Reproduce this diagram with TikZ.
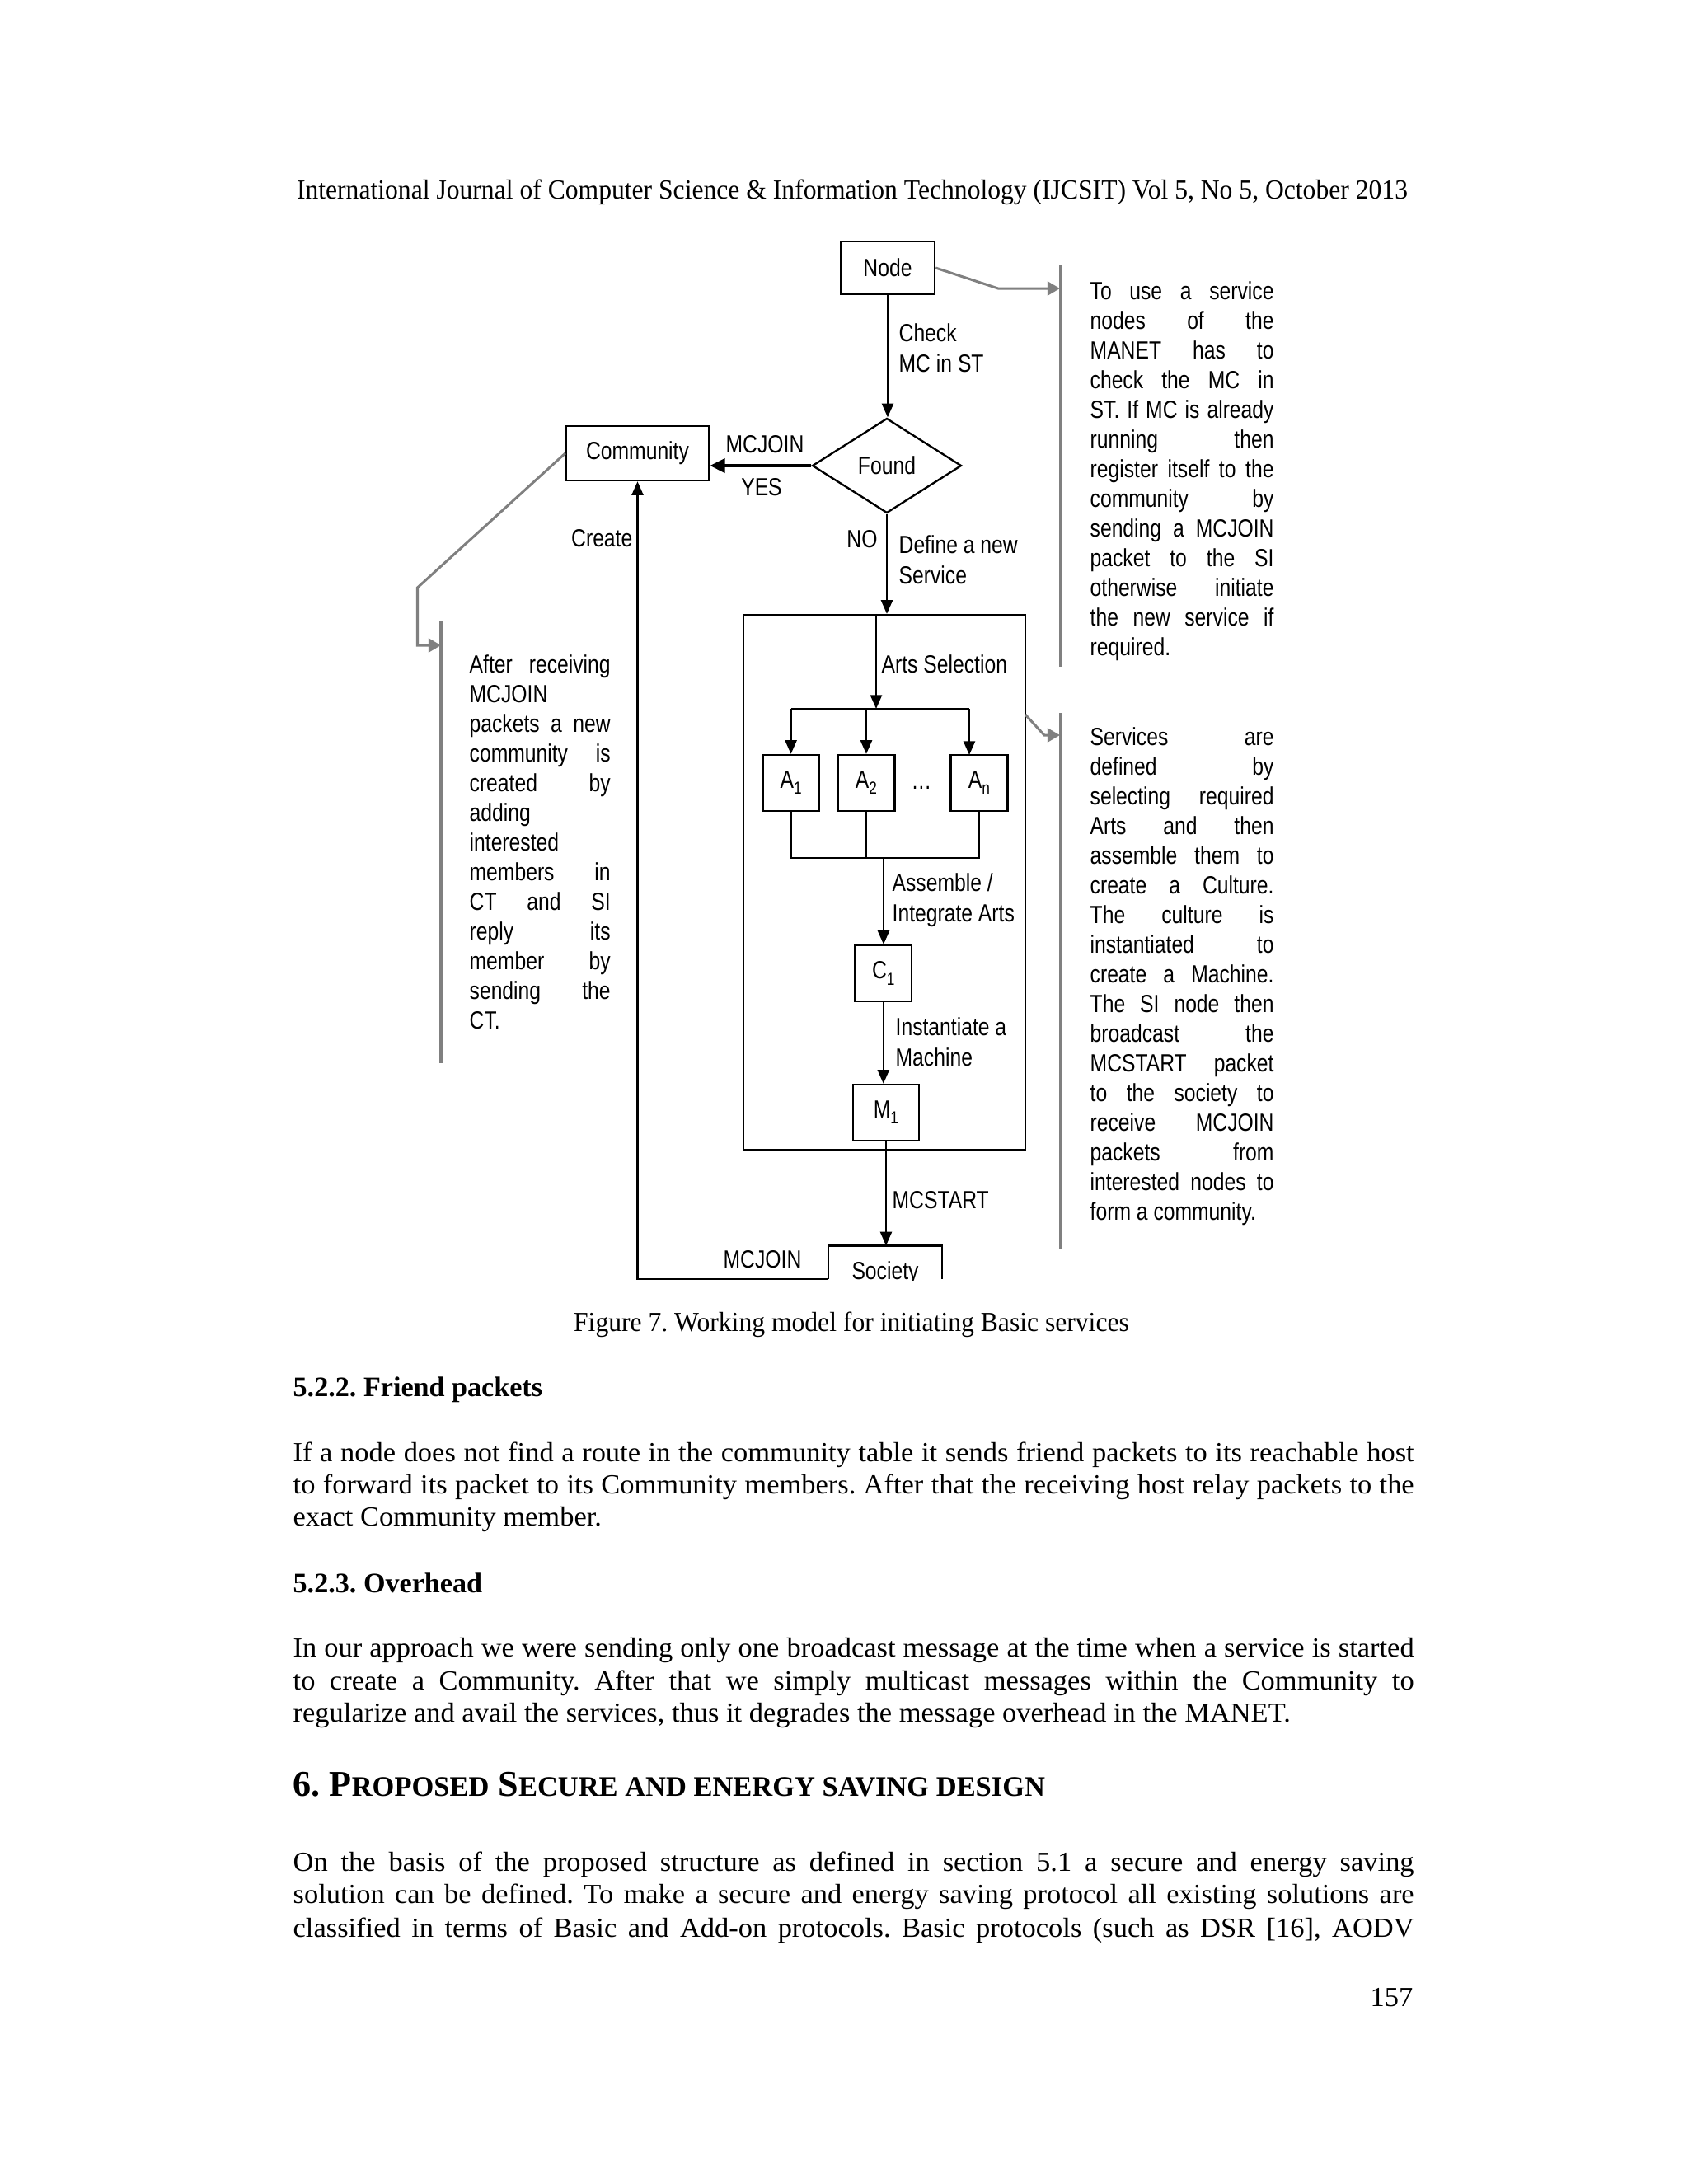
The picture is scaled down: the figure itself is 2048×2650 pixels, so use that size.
\documentclass[tikz,border=0pt]{standalone}
\usepackage{fontspec}
\usepackage{graphicx}
\setmainfont{Liberation Serif}
\newfontfamily\hdfont{Liberation Serif}
\newfontfamily\capfont[FakeStretch=0.945]{Liberation Serif}
\newfontfamily\bodyfont[FakeStretch=1.03]{Liberation Serif}
\newfontfamily\nar[FakeStretch=0.82]{Liberation Sans}
\usetikzlibrary{arrows.meta,shapes.geometric}
\frenchspacing
\newlength\jw
\setlength\jw{406.4pt}
\newsavebox\jbox
\newcommand\jline[1]{\sbox\jbox{#1}\ifdim\wd\jbox>\jw\relax\resizebox{\jw}{\height}{\usebox\jbox}\else\makebox[\jw][s]{#1}\fi}
\newcommand\lowsub[1]{\raisebox{-0.45ex}{\fontsize{6.3}{6.3}\selectfont #1}}
\definecolor{gline}{RGB}{128,128,128}
\tikzset{
  bx/.style 2 args={draw, line width=0.7pt, minimum width=#1*0.29883pt, minimum height=#2*0.29883pt, inner sep=0pt, font=\nar\fontsize{9}{10.8}\selectfont},
  arr/.style={line width=0.7pt, -{Triangle[length=5pt,width=4.2pt]}},
  ln/.style={line width=0.7pt},
  garr/.style={line width=0.9pt, color=gline, -{Triangle[length=4.5pt,width=5pt]}},
  gl/.style={line width=0.9pt, color=gline},
  lab/.style={inner sep=0pt, anchor=base west, font=\nar\fontsize{9}{10.8}\selectfont},
  labc/.style={inner sep=0pt, anchor=base, font=\nar\fontsize{9}{10.8}\selectfont},
  body/.style={inner sep=0pt, anchor=base west, font=\bodyfont\frenchspacing\fontsize{10}{11.6}\selectfont},
  captx/.style={inner sep=0pt, anchor=base, font=\capfont\frenchspacing\fontsize{10}{11.6}\selectfont},
}
\begin{document}
\begin{tikzpicture}[x=0.29883pt, y=-0.29883pt]
\useasboundingbox (0,0) rectangle (2048,2650);
\fill[white] (0,0) rectangle (2048,2650);

% ---------- page text ----------
\node[captx] (hdr) at (1034,241) {International Journal of Computer Science \& Information Technology (IJCSIT) Vol 5, No 5, October 2013};
\node[captx] (cap) at (1033,1615) {Figure 7. Working model for initiating Basic services};
\node[body] (h522) at (355,1694) {\hdfont\bfseries\fontsize{10.2}{12}\selectfont 5.2.2. Friend packets};
\node[body] (p1a) at (355,1773) {\jline{If a node does not find a route in the community table it sends friend packets to its reachable host}};
\node[body] (p1b) at (355,1812) {\jline{to forward its packet to its Community members. After that the receiving host relay packets to the}};
\node[body] (p1c) at (355,1851) {exact Community member.};
\node[body] (h523) at (355,1932) {\hdfont\bfseries\fontsize{10.2}{12}\selectfont 5.2.3. Overhead};
\node[body] (p2a) at (355,2010) {\jline{In our approach we were sending only one broadcast message at the time when a service is started}};
\node[body] (p2b) at (355,2050) {\jline{to create a Community. After that we simply multicast messages within the Community to}};
\node[body] (p2c) at (355,2089) {regularize and avail the services, thus it degrades the message overhead in the MANET.};
\node[body] (h6) at (355,2179) {\hdfont\bfseries\fontsize{13.2}{15}\selectfont 6. P{\fontsize{10.3}{12}\selectfont ROPOSED} S{\fontsize{10.3}{12}\selectfont ECURE AND ENERGY SAVING DESIGN}};
\node[body] (p3a) at (355,2270) {\jline{On the basis of the proposed structure as defined in section 5.1 a secure and energy saving}};
\node[body] (p3b) at (355,2309) {\jline{solution can be defined. To make a secure and energy saving protocol all existing solutions are}};
\node[body] (p3c) at (355,2350) {\jline{classified in terms of Basic and Add-on protocols. Basic protocols (such as DSR [16], AODV}};
\node[body, anchor=base east] (pg) at (1715,2434) {157};

% ---------- diagram boxes ----------
\node[bx={114}{64}] (nodebox) at (1077,325) {Node};
\node[draw, diamond, line width=0.7pt, minimum width=181*0.29883pt, minimum height=115*0.29883pt, inner sep=0pt, font=\nar\fontsize{9}{10.8}\selectfont] (found) at (1076,565) {Found};
\node[bx={173}{66}] (community) at (773.5,550) {Community};
\node[draw, line width=0.7pt, minimum width=342*0.29883pt, minimum height=649*0.29883pt, inner sep=0pt] (bigbox) at (1073,1070.5) {};
\node[bx={68.4}{68}] (a1) at (959.6,950) {A\lowsub{1}};
\node[bx={69}{68}] (a2) at (1051,950) {A\lowsub{2}};
\node[bx={69}{68}] (an) at (1188,950) {A\lowsub{n}};
\node[labc] (dots) at (1118,957) {\dots};
\node[bx={68.4}{68}] (c1) at (1071.8,1181) {C\lowsub{1}};
\node[bx={80}{68}] (m1) at (1075,1350) {M\lowsub{1}};
\node[inner sep=0pt, minimum width=136.5*0.29883pt, minimum height=39*0.29883pt] (society) at (1074,1531.5) {};
\begin{scope}
\clip (0,0) rectangle (2048,1553);
\node[labc] (soctext) at (1074,1552) {Society};
\end{scope}

% ---------- connectors ----------
\coordinate (split) at (1063,860);
\coordinate (antop) at (1176,916);
\coordinate (join) at (1072,1041);
\draw[arr] (nodebox.south) -- (nodebox.south |- found.north);
\draw[line width=1.3pt, -{Triangle[length=5.5pt,width=5pt]}] (found.west) -- (found.west -| community.east);
\draw[arr] (found.south) -- (found.south |- bigbox.north);
\draw[arr] (split |- bigbox.north) -- (split);
\draw[ln] (a1.north |- split) -- (antop |- split);
\draw[arr] (a1.north |- split) -- (a1.north);
\draw[arr] (a2.north |- split) -- (a2.north);
\draw[arr] (antop |- split) -- (antop);
\draw[ln] (a1.south) -- (a1.south |- join) -- (an.south |- join) -- (an.south);
\draw[ln] (a2.south) -- (a2.south |- join);
\draw[arr] (join) -- (join |- c1.north);
\draw[arr] (c1.south) -- (c1.south |- m1.north);
\draw[arr] (m1.south) -- (m1.south |- society.north);
\draw[ln] (society.south west) -- (society.north west) -- (society.north east) -- (society.south east);
\draw[arr] (society.south west) -| (community.south);

% ---------- labels ----------
\node[lab] (chk1) at (1090,414) {Check};
\node[lab] (chk2) at (1090,451) {MC in ST};
\node[labc] (mcj1) at (928,549) {MCJOIN};
\node[labc] (yes) at (924,601) {YES};
\node[lab, anchor=base east] (create) at (768,663) {Create};
\node[labc] (no) at (1046,664) {NO};
\node[lab] (def1) at (1090,671) {Define a new};
\node[lab] (def2) at (1090,708) {Service};
\node[lab] (arts) at (1069,816) {Arts Selection};
\node[lab] (asm1) at (1082,1081) {Assemble /};
\node[lab] (asm2) at (1082,1118) {Integrate Arts};
\node[lab] (ins1) at (1086,1256) {Instantiate a};
\node[lab] (ins2) at (1086,1293) {Machine};
\node[lab] (mcs) at (1082,1466) {MCSTART};
\node[labc] (mcj2) at (925,1538) {MCJOIN};

% ---------- grey annotations ----------
\coordinate (r1t) at (1286,321);
\coordinate (r1b) at (1286,809);
\coordinate (g1a) at (1211,350);
\coordinate (g1e) at (1286,350);
\draw[gl] (r1t) -- (r1b);
\draw[garr] (nodebox.east) -- (g1a) -- (g1e);

\coordinate (l1t) at (535,753);
\coordinate (l1b) at (535,1290);
\coordinate (g2a) at (506.5,713);
\coordinate (g2b) at (506.5,783);
\coordinate (g2e) at (535,783);
\draw[gl] (l1t) -- (l1b);
\draw[garr] (community.west) -- (g2a) -- (g2b) -- (g2e);

\coordinate (r2t) at (1286,865);
\coordinate (r2b) at (1286,1516);
\coordinate (g3s) at (1244,867);
\coordinate (g3a) at (1267,892);
\coordinate (g3e) at (1286,892);
\draw[gl] (r2t) -- (r2b);
\draw[garr] (g3s) -- (g3a) -- (g3e);

% ---------- notes ----------
\foreach \t [count=\i] in {After receiving, MCJOIN, packets a new, community is, created by, adding, interested, members in, CT and SI, reply its, member by, sending the, CT.}
  \node[lab] (ln\i) at (569,{816+36*(\i-1)}) {\makebox[51.1pt][s]{\t}};
\foreach \t [count=\i] in {To use a service, nodes of the, MANET has to, check the MC in, ST. If MC is already, running then, register itself to the, community by, sending a MCJOIN, packet to the SI, otherwise initiate, the new service if, required.}
  \node[lab] (rna\i) at (1322,{363+36*(\i-1)}) {\makebox[66.6pt][s]{\t}};
\foreach \t [count=\i] in {Services are, defined by, selecting required, Arts and then, assemble them to, create a Culture., The culture is, instantiated to, create a Machine., The SI node then, broadcast the, MCSTART packet, to the society to, receive MCJOIN, packets from, interested nodes to, form a community.\hfill}
  \node[lab] (rnb\i) at (1322,{904+36.06*(\i-1)}) {\makebox[66.6pt][s]{\t}};
\end{tikzpicture}
\end{document}
